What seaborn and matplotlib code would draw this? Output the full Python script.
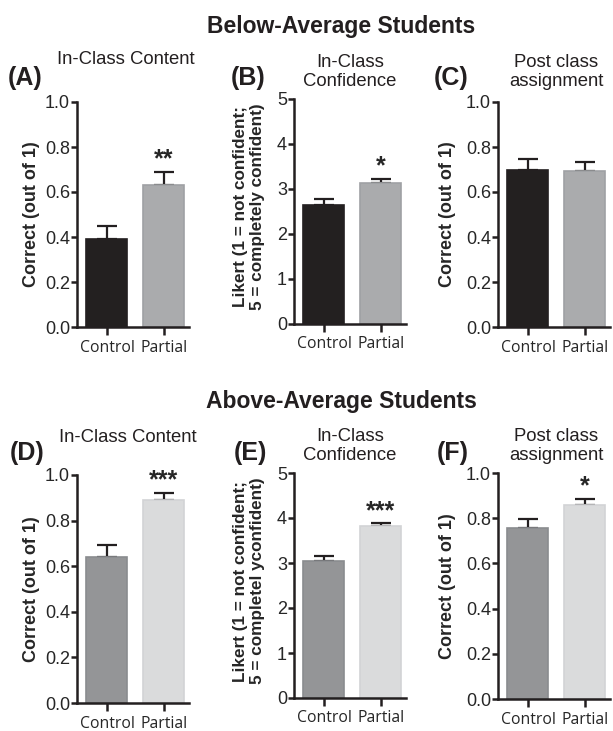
import pandas as pd
import matplotlib
matplotlib.use("Agg")
import matplotlib.pyplot as plt
import seaborn as sns

groups = ["Control", "Partial"]

# below-average students
below_content = [0.39, 0.63]
below_content_err = [0.06, 0.06]
below_conf = [2.65, 3.13]
below_conf_err = [0.13, 0.10]
below_post = [0.70, 0.695]
below_post_err = [0.045, 0.04]

# above-average students
above_content = [0.64, 0.89]
above_content_err = [0.055, 0.03]
above_conf = [3.05, 3.82]
above_conf_err = [0.10, 0.06]
above_post = [0.755, 0.86]
above_post_err = [0.04, 0.025]

below_stars = [["", "**"], ["", "*"], ["", ""]]
above_stars = [["", "***"], ["", "***"], ["", "*"]]

subtitles = ["In-Class Content", "In-Class\nConfidence", "Post class\nassignment"]
letters_top = ["(A)", "(B)", "(C)"]
letters_bot = ["(D)", "(E)", "(F)"]
ylabel_correct = "Correct (out of 1)"
ylabel_likert_top = "Likert (1 = not confident;\n5 = completely confident)"
ylabel_likert_bot = "Likert (1 = not confident;\n5 = completel yconfident)"

sns.set_style("ticks")
plt.rcParams["font.family"] = ["Liberation Sans", "DejaVu Sans"]

W, H = 613, 731
fig = plt.figure(figsize=(W / 100, H / 100), dpi=100)


def rect(left, right, top, bottom):
    return [left / W, 1 - bottom / H, (right - left) / W, (bottom - top) / H]


def ftext(x, y, s, **kw):
    fig.text(x / W, 1 - y / H, s, **kw)


def panel(box, vals, errs, stars, colors, edges, likert, ylabel, label_x):
    ax = fig.add_axes(rect(*box))
    df = pd.DataFrame({"group": groups, "value": vals})
    sns.barplot(data=df, x="group", y="value", hue="group", palette=colors,
                legend=False, width=0.72, errorbar=None, ax=ax, zorder=2)
    for patch, ec in zip(ax.patches, edges):
        patch.set_edgecolor(ec)
        patch.set_linewidth(1.2)
    ax.errorbar([0, 1], vals, yerr=[[0, 0], errs], fmt="none", ecolor="#231f20",
                elinewidth=1.6, capsize=7, capthick=1.6, zorder=1)
    for i, s in enumerate(stars):
        if s:
            ax.annotate(s, xy=(i, vals[i] + errs[i]), xytext=(0, 4),
                        textcoords="offset points", ha="center", va="baseline",
                        fontsize=18, fontweight="bold", annotation_clip=False)
    ax.set_xlim(-0.526, 1.439)
    if likert:
        ax.set_ylim(0, 5)
        ax.set_yticks([0, 1, 2, 3, 4, 5])
        ax.set_yticklabels([str(t) for t in range(6)])
        ax.set_ylabel(ylabel, fontsize=12.3, fontweight="bold", va="center",
                      linespacing=1.1)
        ax.yaxis.set_label_coords((label_x - box[0]) / (box[1] - box[0]), 0.52)
    else:
        ax.set_ylim(0, 1)
        ticks = [0.0, 0.2, 0.4, 0.6, 0.8, 1.0]
        ax.set_yticks(ticks)
        ax.set_yticklabels([f"{t:.1f}" for t in ticks])
        ax.set_ylabel(ylabel, fontsize=13, fontweight="bold", va="center")
        ax.yaxis.set_label_coords((label_x - box[0]) / (box[1] - box[0]), 0.5)
    ax.set_xlabel("")
    sns.despine(ax=ax)
    for sp in ["left", "bottom"]:
        ax.spines[sp].set_linewidth(1.8)
        ax.spines[sp].set_color("#231f20")
    ax.tick_params(axis="y", length=4, width=1.8, pad=1, labelsize=13,
                   color="#231f20")
    ax.tick_params(axis="x", length=5.5, width=1.8, pad=3.5, color="#231f20")
    for lab in ax.get_xticklabels():
        lab.set_fontfamily(["Open Sans", "DejaVu Sans"])
        lab.set_fontsize(11.3)
    ax.patch.set_alpha(0)
    return ax


top_colors = ["#231f20", "#a9abae"]
top_edges = ["#231f20", "#9fa1a4"]
bot_colors = ["#939598", "#dadbdc"]
bot_edges = ["#8a8c8f", "#d2d3d5"]

panel((77, 189, 102, 327), below_content, below_content_err, below_stars[0],
      top_colors, top_edges, False, ylabel_correct, 32)
panel((294, 406, 99, 324), below_conf, below_conf_err, below_stars[1],
      top_colors, top_edges, True, ylabel_likert_top, 249)
panel((498, 610, 102, 327), below_post, below_post_err, below_stars[2],
      top_colors, top_edges, False, ylabel_correct, 448)

panel((77, 189, 475, 703), above_content, above_content_err, above_stars[0],
      bot_colors, bot_edges, False, ylabel_correct, 32)
panel((294, 406, 473, 698), above_conf, above_conf_err, above_stars[1],
      bot_colors, bot_edges, True, ylabel_likert_bot, 249)
panel((498, 610, 473, 699), above_post, above_post_err, above_stars[2],
      bot_colors, bot_edges, False, ylabel_correct, 448)

# row headings
ftext(341, 33, "Below-Average Students", ha="center", va="baseline",
      fontsize=16.5, fontweight="bold", color="#231f20")
ftext(341, 408, "Above-Average Students", ha="center", va="baseline",
      fontsize=16.5, fontweight="bold", color="#231f20")

# subtitles and panel letters
sub_x = [126, 350, 556]
for sx, st, lt, lx, lb in zip(sub_x, subtitles, letters_top, [25, 248, 451],
                              letters_bot):
    if "\n" in st:
        ftext(sx, 72, st, ha="center", va="center", fontsize=13.3,
              linespacing=1.15, color="#231f20")
        ftext(sx, 446, st, ha="center", va="center", fontsize=13.3,
              linespacing=1.15, color="#231f20")
    else:
        ftext(sx, 64, st, ha="center", va="baseline", fontsize=13.3,
              color="#231f20")
        ftext(sx + 2, 442, st, ha="center", va="baseline", fontsize=13.3,
              color="#231f20")
    ftext(lx, 78, lt, ha="center", va="center", fontsize=18,
          fontweight="bold", color="#231f20")
    ftext(lx + 2, 453, lb, ha="center", va="center", fontsize=18,
          fontweight="bold", color="#231f20")

fig.savefig("out.png", dpi=100)
